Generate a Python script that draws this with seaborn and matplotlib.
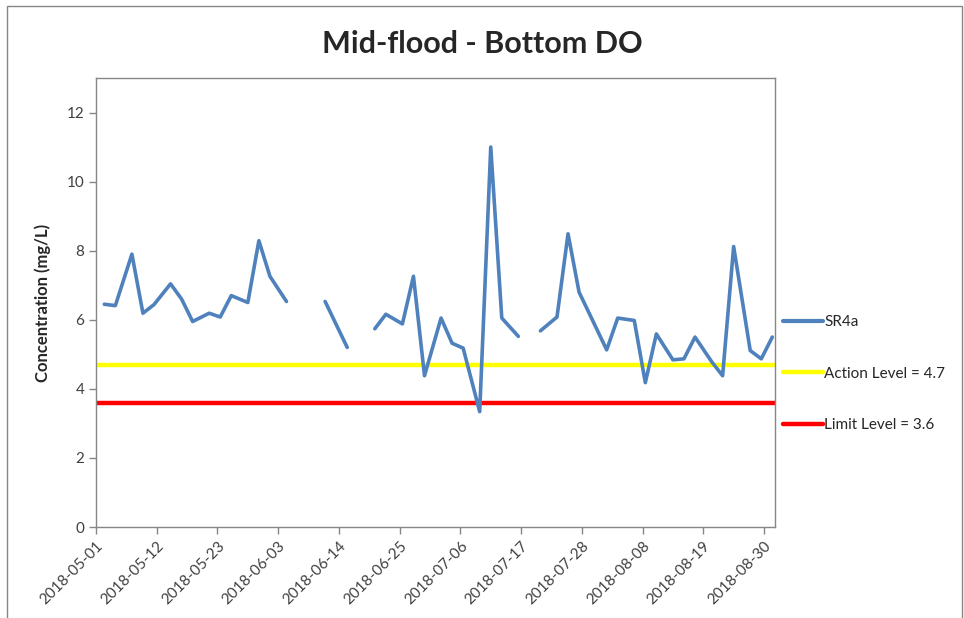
import pandas as pd
import numpy as np
import matplotlib.pyplot as plt
import matplotlib.dates as mdates
from matplotlib.lines import Line2D
from matplotlib.patches import Rectangle
import seaborn as sns

# sampling dates (Mon/Wed/Fri) and bottom DO readings, NaN = no data
dates = ["2018-05-02", "2018-05-04", "2018-05-07", "2018-05-09", "2018-05-11",
         "2018-05-14", "2018-05-16", "2018-05-18", "2018-05-21", "2018-05-23",
         "2018-05-25", "2018-05-28", "2018-05-30", "2018-06-01", "2018-06-04",
         "2018-06-06", "2018-06-08", "2018-06-11", "2018-06-15", "2018-06-18",
         "2018-06-20", "2018-06-22", "2018-06-25", "2018-06-27", "2018-06-29",
         "2018-07-02", "2018-07-04", "2018-07-06", "2018-07-09", "2018-07-11",
         "2018-07-13", "2018-07-16", "2018-07-18", "2018-07-20", "2018-07-23",
         "2018-07-25", "2018-07-27", "2018-08-01", "2018-08-03", "2018-08-06",
         "2018-08-08", "2018-08-10", "2018-08-13", "2018-08-15", "2018-08-17",
         "2018-08-20", "2018-08-22", "2018-08-24", "2018-08-27", "2018-08-29",
         "2018-08-31"]
sr4a = [6.45, 6.41, 7.90, 6.19, 6.44,
        7.04, 6.60, 5.95, 6.19, 6.08,
        6.70, 6.50, 8.29, 7.26, 6.53,
        np.nan, np.nan, 6.53, 5.20, np.nan,
        5.74, 6.16, 5.88, 7.26, 4.38,
        6.05, 5.32, 5.18, 3.34, 11.00,
        6.05, 5.52, np.nan, 5.68, 6.08,
        8.49, 6.80, 5.13, 6.05, 5.98,
        4.18, 5.59, 4.84, 4.87, 5.50,
        4.79, 4.38, 8.12, 5.11, 4.87,
        5.50]
action_level = 4.7
limit_level = 3.6

tick_dates = pd.date_range("2018-05-01", "2018-08-30", freq="11D")

df = pd.DataFrame({"date": pd.to_datetime(dates), "do": sr4a})
# Excel date axis draws each point in the middle of its day
df["date"] = df["date"] + pd.Timedelta(hours=12)
df["segment"] = df["do"].isna().cumsum()
df = df.dropna()

sns.set_style("white")
plt.rcParams["font.family"] = ["Lato", "DejaVu Sans"]

fig = plt.figure(figsize=(9.64, 6.18), dpi=100)
ax = fig.add_axes([0.0996, 0.1472, 0.7044, 0.7266])

blue = "#4F81BD"
sns.lineplot(data=df, x="date", y="do", units="segment", estimator=None,
             color=blue, linewidth=2.6, ax=ax, legend=False)
ax.axhline(action_level, color="#FFFF00", linewidth=3.2, zorder=1)
ax.axhline(limit_level, color="#FF0000", linewidth=3.2, zorder=1)

ax.set_xlim(pd.Timestamp("2018-05-01"), pd.Timestamp("2018-09-01"))
ax.set_ylim(0, 13)
ax.set_yticks(range(0, 13, 2))
ax.set_xticks(tick_dates)
ax.xaxis.set_major_formatter(mdates.DateFormatter("%Y-%m-%d"))
plt.setp(ax.get_xticklabels(), rotation=45, ha="right", rotation_mode="anchor")

ax.tick_params(axis="both", which="major", labelsize=11, color="#868686",
               length=5, width=1, direction="out", labelcolor="#404040",
               left=True, bottom=True)
for side in ["left", "bottom", "top", "right"]:
    ax.spines[side].set_color("#868686")
    ax.spines[side].set_linewidth(1)

ax.set_xlabel("")
ax.set_ylabel("Concentration (mg/L)", fontsize=12, fontweight="bold",
              labelpad=11)

fig.text(0.5, 0.914, "Mid-flood - Bottom DO", ha="center", va="baseline",
         fontsize=22, fontweight="bold")

handles = [Line2D([0], [0], color=blue, linewidth=3),
           Line2D([0], [0], color="#FFFF00", linewidth=3.2),
           Line2D([0], [0], color="#FF0000", linewidth=3.2)]
labels = ["SR4a", "Action Level = 4.7", "Limit Level = 3.6"]
fig.legend(handles, labels, loc="upper left", bbox_to_anchor=(0.806, 0.5),
           frameon=False, fontsize=11, handlelength=2.6, handletextpad=0.1,
           labelspacing=2.45, borderaxespad=0)

# outer chart frame
fig.patches.append(Rectangle((7 / 964, -0.02), 955 / 964, 1.02 - 6 / 618,
                             transform=fig.transFigure, fill=False,
                             edgecolor="#868686", linewidth=1))

fig.savefig("out.png", dpi=100)
